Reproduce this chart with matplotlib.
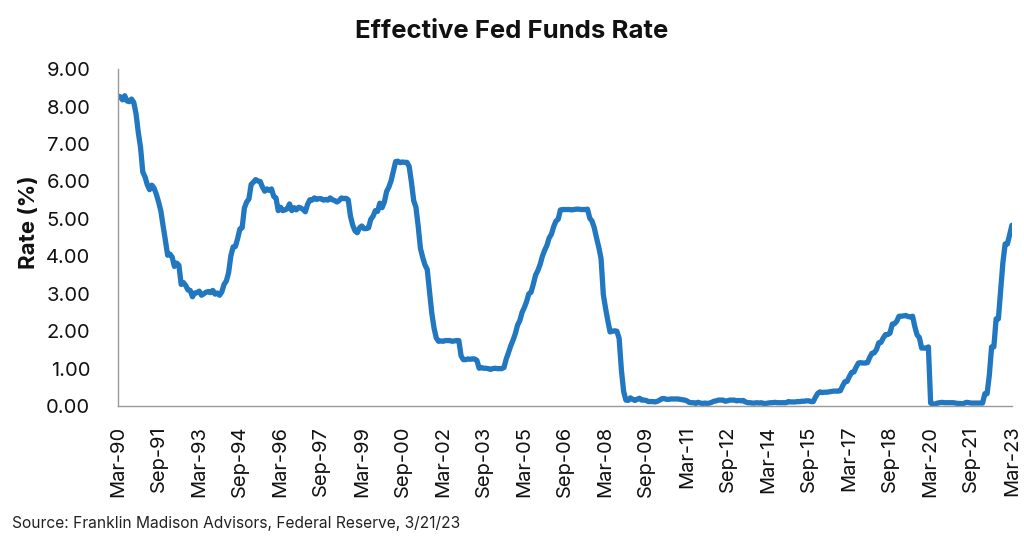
import pandas as pd
import matplotlib
matplotlib.use('Agg')
import matplotlib.pyplot as plt
from matplotlib.ticker import FormatStrFormatter


# effective fed funds rate, monthly, Mar-90 .. Mar-23
rates_1990 = [8.28, 8.26, 8.18, 8.29, 8.15, 8.13, 8.20, 8.11, 7.81, 7.31]
rates_1991 = [6.91, 6.25, 6.12, 5.91, 5.78, 5.90, 5.82, 5.66, 5.45, 5.21, 4.81, 4.43]
rates_1992 = [4.03, 4.06, 3.98, 3.73, 3.82, 3.76, 3.25, 3.30, 3.22, 3.10, 3.09, 2.92]
rates_1993 = [3.02, 3.03, 3.07, 2.96, 3.00, 3.04, 3.06, 3.03, 3.09, 2.99, 3.02, 2.96]
rates_1994 = [3.05, 3.25, 3.34, 3.56, 4.01, 4.25, 4.26, 4.47, 4.73, 4.76, 5.29, 5.45]
rates_1995 = [5.53, 5.92, 5.98, 6.05, 6.01, 6.00, 5.85, 5.74, 5.80, 5.76, 5.80, 5.60]
rates_1996 = [5.56, 5.22, 5.31, 5.22, 5.24, 5.27, 5.40, 5.22, 5.30, 5.24, 5.31, 5.29]
rates_1997 = [5.25, 5.19, 5.39, 5.51, 5.50, 5.56, 5.52, 5.54, 5.54, 5.50, 5.52, 5.50]
rates_1998 = [5.56, 5.51, 5.49, 5.45, 5.49, 5.56, 5.54, 5.55, 5.51, 5.07, 4.83, 4.68]
rates_1999 = [4.63, 4.76, 4.81, 4.74, 4.74, 4.76, 4.99, 5.07, 5.22, 5.20, 5.42, 5.30]
rates_2000 = [5.45, 5.73, 5.85, 6.02, 6.27, 6.53, 6.54, 6.50, 6.52, 6.51, 6.51, 6.40]
rates_2001 = [5.98, 5.49, 5.31, 4.80, 4.21, 3.97, 3.77, 3.65, 3.07, 2.49, 2.09, 1.82]
rates_2002 = [1.73, 1.74, 1.73, 1.75, 1.75, 1.75, 1.73, 1.74, 1.75, 1.75, 1.34, 1.24]
rates_2003 = [1.24, 1.26, 1.25, 1.26, 1.26, 1.22, 1.01, 1.03, 1.01, 1.01, 1.00, 0.98]
rates_2004 = [1.00, 1.01, 1.00, 1.00, 1.00, 1.03, 1.26, 1.43, 1.61, 1.76, 1.93, 2.16]
rates_2005 = [2.28, 2.50, 2.63, 2.79, 3.00, 3.04, 3.26, 3.50, 3.62, 3.78, 4.00, 4.16]
rates_2006 = [4.29, 4.49, 4.59, 4.79, 4.94, 4.99, 5.24, 5.25, 5.25, 5.25, 5.25, 5.24]
rates_2007 = [5.25, 5.26, 5.26, 5.25, 5.25, 5.25, 5.26, 5.02, 4.94, 4.76, 4.49, 4.24]
rates_2008 = [3.94, 2.98, 2.61, 2.28, 1.98, 2.00, 2.01, 2.00, 1.81, 0.97, 0.39, 0.16]
rates_2009 = [0.15, 0.22, 0.18, 0.15, 0.18, 0.21, 0.16, 0.16, 0.15, 0.12, 0.12, 0.12]
rates_2010 = [0.11, 0.13, 0.16, 0.20, 0.20, 0.18, 0.18, 0.19, 0.19, 0.19, 0.19, 0.18]
rates_2011 = [0.17, 0.16, 0.14, 0.10, 0.09, 0.09, 0.07, 0.10, 0.08, 0.07, 0.08, 0.07]
rates_2012 = [0.08, 0.10, 0.13, 0.14, 0.16, 0.16, 0.16, 0.13, 0.14, 0.16, 0.16, 0.16]
rates_2013 = [0.14, 0.15, 0.14, 0.15, 0.11, 0.09, 0.09, 0.08, 0.08, 0.09, 0.08, 0.09]
rates_2014 = [0.07, 0.07, 0.08, 0.09, 0.09, 0.10, 0.09, 0.09, 0.09, 0.09, 0.09, 0.12]
rates_2015 = [0.11, 0.11, 0.11, 0.12, 0.12, 0.13, 0.13, 0.14, 0.14, 0.12, 0.12, 0.24]
rates_2016 = [0.34, 0.38, 0.36, 0.37, 0.37, 0.38, 0.39, 0.40, 0.40, 0.40, 0.41, 0.54]
rates_2017 = [0.65, 0.66, 0.79, 0.90, 0.91, 1.04, 1.15, 1.16, 1.15, 1.15, 1.16, 1.30]
rates_2018 = [1.41, 1.42, 1.51, 1.69, 1.70, 1.82, 1.91, 1.91, 1.95, 2.19, 2.20, 2.27]
rates_2019 = [2.40, 2.40, 2.41, 2.42, 2.39, 2.38, 2.40, 2.12, 1.90, 1.83, 1.55, 1.55]
rates_2020 = [1.55, 1.58, 0.08, 0.05, 0.05, 0.08, 0.09, 0.10, 0.09, 0.09, 0.09, 0.09]
rates_2021 = [0.09, 0.08, 0.07, 0.07, 0.06, 0.08, 0.10, 0.09, 0.08, 0.08, 0.08, 0.08]
rates_2022 = [0.08, 0.08, 0.33, 0.33, 0.83, 1.58, 1.58, 2.33, 2.33, 3.08, 3.83, 4.33]
rates_2023 = [4.33, 4.58, 4.83]

tick_labels = ['Mar-90', 'Sep-91', 'Mar-93', 'Sep-94', 'Mar-96', 'Sep-97',
               'Mar-99', 'Sep-00', 'Mar-02', 'Sep-03', 'Mar-05', 'Sep-06',
               'Mar-08', 'Sep-09', 'Mar-11', 'Sep-12', 'Mar-14', 'Sep-15',
               'Mar-17', 'Sep-18', 'Mar-20', 'Sep-21', 'Mar-23']

rates = (rates_1990 + rates_1991 + rates_1992 + rates_1993 + rates_1994 +
         rates_1995 + rates_1996 + rates_1997 + rates_1998 + rates_1999 +
         rates_2000 + rates_2001 + rates_2002 + rates_2003 + rates_2004 +
         rates_2005 + rates_2006 + rates_2007 + rates_2008 + rates_2009 +
         rates_2010 + rates_2011 + rates_2012 + rates_2013 + rates_2014 +
         rates_2015 + rates_2016 + rates_2017 + rates_2018 + rates_2019 +
         rates_2020 + rates_2021 + rates_2022 + rates_2023)

df = pd.DataFrame({'Rate': rates})
df['Month'] = pd.date_range('1990-03-01', periods=len(df), freq='MS')

plt.rcParams['font.family'] = ['Inter', 'DejaVu Sans']

fig = plt.figure(figsize=(10.24, 5.4), dpi=100)
ax = fig.add_axes([0.1152, 0.248, 0.8730, 0.624])

ax.plot(df.index, df['Rate'], color='#2177C0', linewidth=3.8,
        solid_joinstyle='round', solid_capstyle='round')

ax.set_xlim(0, len(df) - 1)
ax.set_ylim(0, 9)
ax.set_yticks(range(0, 10))
ax.yaxis.set_major_formatter(FormatStrFormatter('%.2f'))
ax.set_xticks(range(0, len(df), 18))
ax.set_xticklabels(tick_labels, rotation=90)

ax.tick_params(axis='y', length=0, pad=20, labelsize=14.5, labelcolor='#111111')
ax.tick_params(axis='x', length=0, pad=14, labelsize=14.5, labelcolor='#111111')

for side in ['top', 'right']:
    ax.spines[side].set_visible(False)
for side in ['left', 'bottom']:
    ax.spines[side].set_color('#999999')
    ax.spines[side].set_linewidth(1)

ax.set_ylabel('Rate (%)', fontsize=16, fontweight='bold', color='#111111')
ax.yaxis.set_label_coords(-0.0885, 0.546)

fig.text(0.5, 0.942, 'Effective Fed Funds Rate', ha='center', va='center',
         fontsize=18.5, fontweight='bold', color='#111111')
fig.text(0.012, 0.030, 'Source: Franklin Madison Advisors, Federal Reserve, 3/21/23',
         ha='left', va='center', fontsize=11.2, color='#222222')

fig.savefig('out.png', dpi=100)
